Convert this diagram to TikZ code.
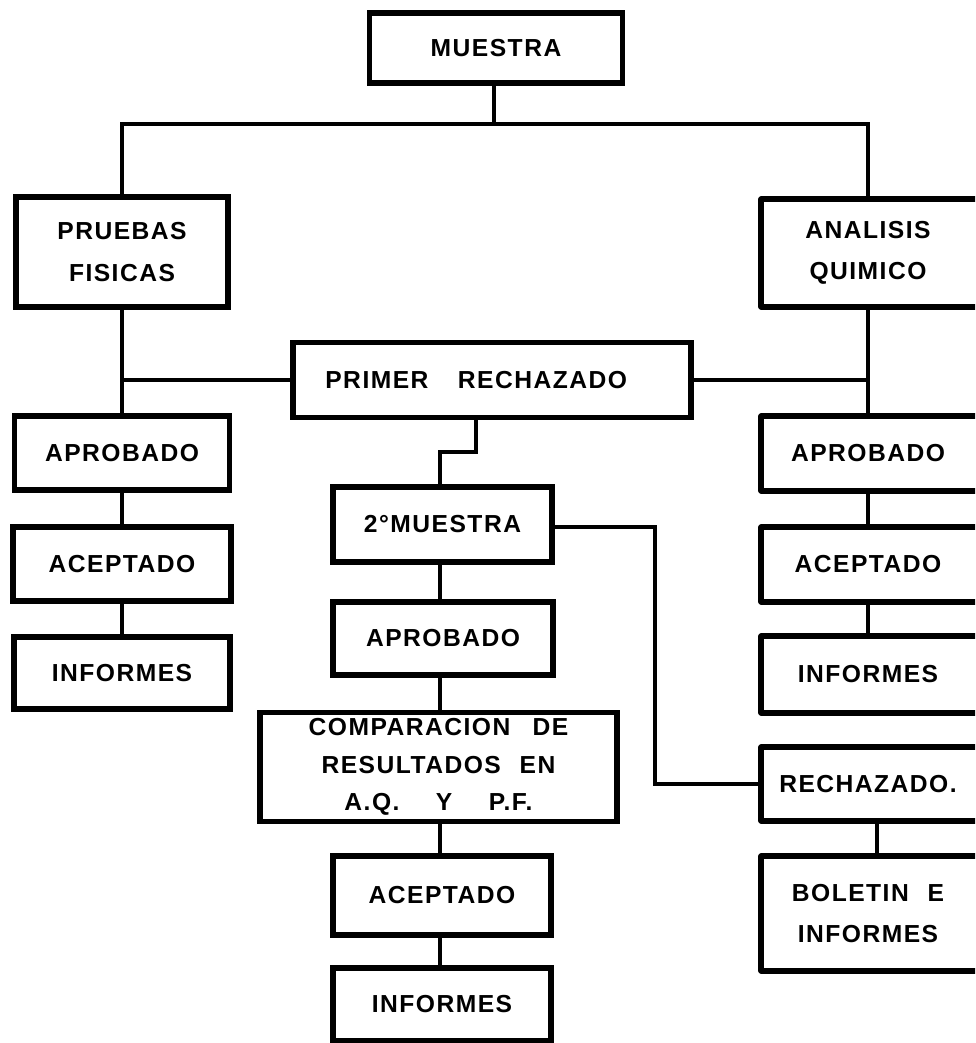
\documentclass[tikz,border=0pt]{standalone}
\usepackage{fontspec}
\newfontfamily\labfont{Liberation Sans}[LetterSpace=6]
\newcommand\dlab{\labfont\bfseries\fontsize{7}{11.7}\selectfont}
\begin{document}
\begin{tikzpicture}[x=0.01cm,y=-0.01cm,
  box/.style={draw, line width=1.6pt, inner sep=0pt, align=center, font=\dlab},
  rbox/.style={inner sep=0pt, align=center, font=\dlab, minimum width=2.12cm},
  frame/.style={line width=1.6pt, line join=round},
  conn/.style={line width=1.3pt}]
\useasboundingbox (0,0) rectangle (975,1043);
\clip (0,0) rectangle (975,1043);
% top
\node[box, minimum width=2.53cm, minimum height=0.70cm] (m) at (496,48) {MUESTRA};
\node[box, minimum width=2.12cm, minimum height=1.10cm] (pf) at (122,252) {PRUEBAS\\FISICAS};
\node[rbox, minimum height=1.06cm] (aq) at (868,253) {ANALISIS\\QUIMICO};
\node[box, minimum width=3.98cm, minimum height=0.75cm] (pr) at (492,380) {PRIMER\hspace{6pt} RECHAZADO\kern9pt};
% left column
\node[box, minimum width=2.15cm, minimum height=0.74cm] (la) at (122,453) {APROBADO};
\node[box, minimum width=2.18cm, minimum height=0.74cm] (lc) at (122,564) {ACEPTADO};
\node[box, minimum width=2.16cm, minimum height=0.72cm] (li) at (122,673) {INFORMES};
% right column
\node[rbox, minimum height=0.73cm] (ra) at (868,453.5) {APROBADO};
\node[rbox, minimum height=0.73cm] (rc) at (868,564.5) {ACEPTADO};
\node[rbox, minimum height=0.75cm] (ri) at (868,674.5) {INFORMES};
\node[rbox, minimum height=0.72cm] (rr) at (868,784) {RECHAZADO.};
\node[rbox, minimum height=1.13cm] (rb) at (868,913.5) {BOLETIN\hspace{3pt} E\\INFORMES};
\foreach \n in {aq,ra,rc,ri,rr,rb}
  \draw[frame] ([xshift=0.3cm]\n.north east) -- (\n.north west) -- (\n.south west) -- ([xshift=0.3cm]\n.south east);
% center column
\node[box, minimum width=2.19cm, minimum height=0.75cm] (m2) at (442.5,524.5) {2°MUESTRA};
\node[box, minimum width=2.20cm, minimum height=0.73cm] (ca) at (443,638.5) {APROBADO};
\node[box, minimum width=3.57cm, minimum height=1.09cm, font=\dlab\fontsize{7}{10.6}\selectfont] (cmp) at (438.5,767)
  {COMPARACION\hspace{4pt} DE\\RESULTADOS\hspace{3pt} EN\\A.Q.\hspace{8pt} Y\hspace{8pt} P.F.};
\node[box, minimum width=2.18cm, minimum height=0.79cm] (cc) at (442,895.5) {ACEPTADO};
\node[box, minimum width=2.18cm, minimum height=0.73cm] (ci) at (442,1004.5) {INFORMES};
% junction coordinates
\coordinate (j0) at (494,124);
\coordinate (k1) at (476,452);
\coordinate (k2) at (440,452);
\coordinate (k3) at (655,784);
% connectors
\draw[conn] (m.south -| j0) -- (j0);
\draw[conn] (pf.north) |- (j0) -| (aq.north);
\draw[conn] (pf.south) -- (la.north);
\draw[conn] (la.south) -- (lc.north);
\draw[conn] (lc.south) -- (li.north);
\draw[conn] (aq.south) -- (ra.north);
\draw[conn] (ra.south) -- (rc.north);
\draw[conn] (rc.south) -- (ri.north);
\draw[conn] (pr.west) -- (pr.west -| pf.south);
\draw[conn] (pr.east) -- (pr.east -| aq.south);
\draw[conn] (pr.south -| k1) -- (k1) -- (k2) -- (m2.north -| k2);
\draw[conn] (m2.south -| k2) -- (ca.north -| k2);
\draw[conn] (ca.south -| k2) -- (cmp.north -| k2);
\draw[conn] (cmp.south -| k2) -- (cc.north -| k2);
\draw[conn] (cc.south -| k2) -- (ci.north -| k2);
\draw[conn] ([yshift=-0.025cm]m2.east) -- ([yshift=-0.025cm]m2.east -| k3) -- (k3) -- (rr.west);
\draw[conn] ([xshift=0.09cm]rr.south) -- ([xshift=0.09cm]rb.north);
\end{tikzpicture}
\end{document}
